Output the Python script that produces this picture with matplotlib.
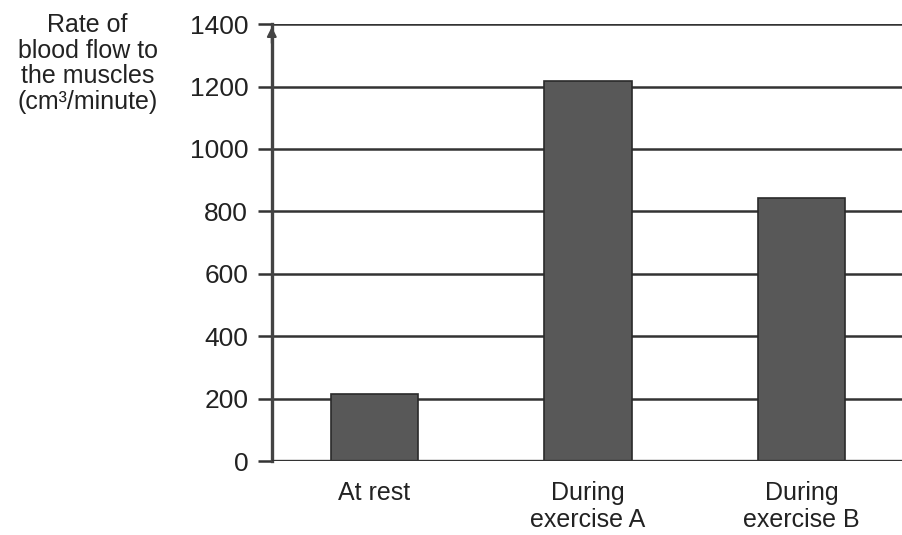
import matplotlib.pyplot as plt
import numpy as np

categories = ["At rest", "During\nexercise A", "During\nexercise B"]
blood_flow = [215, 1218, 843]
y_ticks = [0, 200, 400, 600, 800, 1000, 1200, 1400]

plt.rcParams['font.family'] = ['Liberation Sans', 'DejaVu Sans']

fig = plt.figure(figsize=(9.03, 5.35), dpi=100)
ax = fig.add_axes([0.301, 0.138, 0.70, 0.817])

x = np.arange(len(categories))
ax.bar(x, blood_flow, width=0.41, color='#585858', edgecolor='#2a2a2a',
       linewidth=1.2, zorder=3)

ax.set_ylim(0, 1400)
ax.set_xlim(-0.48, 2.48)
ax.set_yticks(y_ticks)
ax.set_yticklabels([str(v) for v in y_ticks], fontsize=19, color='#222222')
ax.set_xticks(x)
ax.set_xticklabels(categories, fontsize=18, color='#222222', linespacing=1.2)
ax.tick_params(axis='y', length=10, width=1.8, color='#333333', pad=7)
ax.tick_params(axis='x', length=0, pad=14)

ax.grid(axis='y', color='#333333', linewidth=1.8, zorder=1)
for s in ['top', 'right', 'bottom']:
    ax.spines[s].set_visible(False)
ax.spines['left'].set_linewidth(2.4)
ax.spines['left'].set_color('#444444')
ax.axhline(0, color='#333333', linewidth=2.4, zorder=4)

# arrow at top of the y axis
ax.annotate('', xy=(-0.48, 1400), xytext=(-0.48, 1330),
            arrowprops=dict(arrowstyle='-|>', color='#444444', lw=1.5,
                            mutation_scale=14),
            annotation_clip=False)

fig.text(0.097, 0.975, "Rate of\nblood flow to\nthe muscles\n(cm³/minute)",
         ha='center', va='top', fontsize=18, color='#222222', linespacing=1.08)

fig.savefig("out.png", dpi=100)
